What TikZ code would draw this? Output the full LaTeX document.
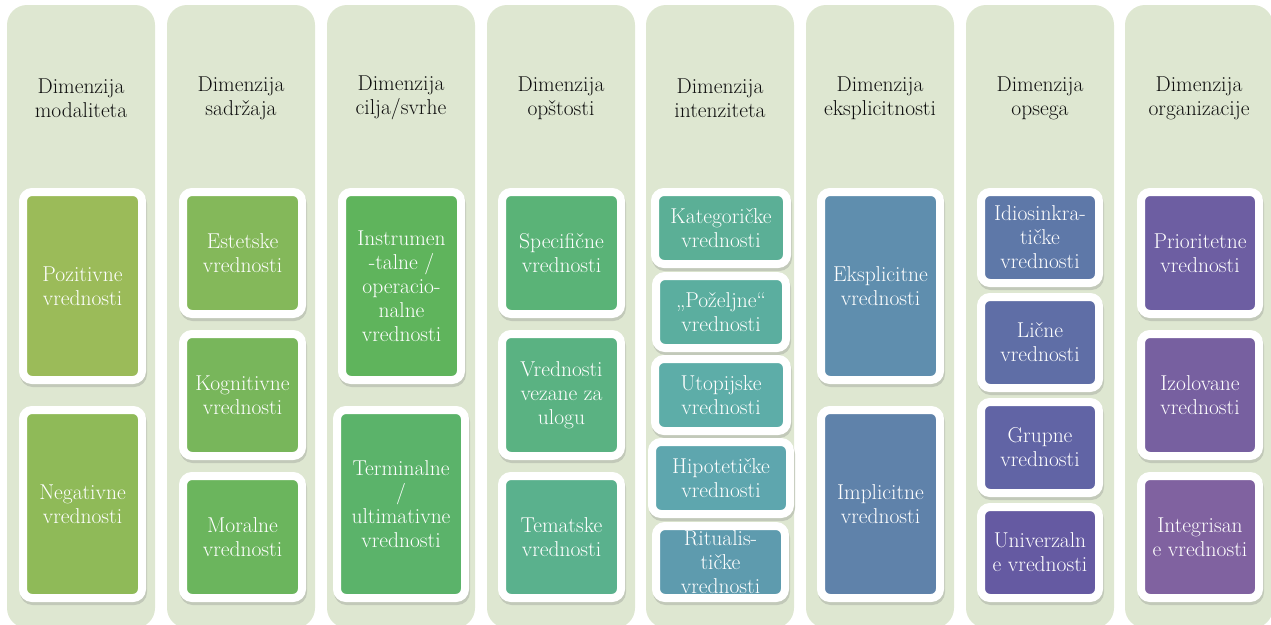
\documentclass[tikz,border=0pt]{standalone}
\usetikzlibrary{shadows}
\definecolor{panelc}{RGB}{222,231,209}
\definecolor{shadowc}{RGB}{194,201,185}
\definecolor{headc}{RGB}{15,15,15}
\definecolor{cpoz}{RGB}{155,187,89}
\definecolor{cneg}{RGB}{143,186,88}
\definecolor{cest}{RGB}{132,184,90}
\definecolor{ckog}{RGB}{120,182,91}
\definecolor{cmor}{RGB}{107,181,93}
\definecolor{cins}{RGB}{95,180,92}
\definecolor{cter}{RGB}{91,179,106}
\definecolor{cspe}{RGB}{90,179,119}
\definecolor{cvez}{RGB}{90,178,130}
\definecolor{ctem}{RGB}{90,177,141}
\definecolor{ckat}{RGB}{91,175,150}
\definecolor{cpoz2}{RGB}{91,174,159}
\definecolor{cuto}{RGB}{93,173,168}
\definecolor{chip}{RGB}{94,166,174}
\definecolor{crit}{RGB}{94,155,174}
\definecolor{ceks}{RGB}{95,142,174}
\definecolor{cimp}{RGB}{95,130,170}
\definecolor{cidi}{RGB}{94,120,168}
\definecolor{clic}{RGB}{95,110,166}
\definecolor{cgru}{RGB}{97,100,165}
\definecolor{cuni}{RGB}{101,90,162}
\definecolor{cpri}{RGB}{109,94,162}
\definecolor{cizo}{RGB}{119,96,160}
\definecolor{cint}{RGB}{128,98,160}
\begin{document}
\begin{tikzpicture}[x=1pt,y=-1pt,
  panel/.style={fill=panelc, rounded corners=20pt},
  head/.style={align=center, text=headc, inner sep=0pt, font=\fontsize{21.5}{24}\selectfont},
  val/.style={draw=white, line width=8pt, rounded corners=9pt, text=white, align=center,
    inner sep=0pt, font=\fontsize{21.5}{24}\selectfont,
    drop shadow={shadow xshift=1pt, shadow yshift=-3pt, opacity=1, fill=shadowc, draw=shadowc, line width=8pt}}
]
\useasboundingbox (0,0) rectangle (1271,624);
\clip (0,0) rectangle (1271,624);
\fill[panel] (7,5) rectangle (155,628);
\fill[panel] (167,5) rectangle (315,628);
\fill[panel] (327,5) rectangle (475,628);
\fill[panel] (487,5) rectangle (635,628);
\fill[panel] (646,5) rectangle (794,628);
\fill[panel] (806,5) rectangle (954,628);
\fill[panel] (966,5) rectangle (1114,628);
\fill[panel] (1125,5) rectangle (1273,628);
\node[head] (hmod) at (81,98) {Dimenzija\\modaliteta};
\node[head] (hsad) at (241,98) {Dimenzija\\sadržaja};
\node[head] (hcil) at (401,98) {Dimenzija\\cilja/svrhe};
\node[head] (hops) at (561,98) {Dimenzija\\opštosti};
\node[head] (hint) at (720,98) {Dimenzija\\intenziteta};
\node[head] (heks) at (880,98) {Dimenzija\\eksplicitnosti};
\node[head] (hobu) at (1040,98) {Dimenzija\\opsega};
\node[head] (horg) at (1199,98) {Dimenzija\\organizacije};
\node[val, fill=cpoz, minimum width=119pt, minimum height=188pt] (pozitivne) at (82.5,286) {Pozitivne\\vrednosti};
\node[val, fill=cneg, minimum width=119pt, minimum height=188pt] (negativne) at (82.5,504) {Negativne\\vrednosti};
\node[val, fill=cest, minimum width=119pt, minimum height=122pt] (estetske) at (242.5,253) {Estetske\\vrednosti};
\node[val, fill=ckog, minimum width=119pt, minimum height=122pt] (kognitivne) at (242.5,395) {Kognitivne\\vrednosti};
\node[val, fill=cmor, minimum width=119pt, minimum height=122pt] (moralne) at (242.5,537) {Moralne\\vrednosti};
\node[val, fill=cins, minimum width=119pt, minimum height=188pt] (instrumentalne) at (401.5,286) {Instrumen\\-talne /\\operacio-\\nalne\\vrednosti};
\node[val, fill=cter, minimum width=128pt, minimum height=188pt] (terminalne) at (401,504) {Terminalne\\/\\ultimativne\\vrednosti};
\node[val, fill=cspe, minimum width=119pt, minimum height=122pt] (specificne) at (561.5,253) {Specifične\\vrednosti};
\node[val, fill=cvez, minimum width=119pt, minimum height=122pt] (uloga) at (561.5,395) {Vrednosti\\vezane za\\ulogu};
\node[val, fill=ctem, minimum width=119pt, minimum height=122pt] (tematske) at (561.5,537) {Tematske\\vrednosti};
\node[val, fill=ckat, minimum width=132pt, minimum height=72pt] (kategoricke) at (721,228) {Kategoričke\\vrednosti};
\node[val, fill=cpoz2, minimum width=130pt, minimum height=72pt] (pozeljne) at (721,312) {„Poželjne“\\vrednosti};
\node[val, fill=cuto, minimum width=132pt, minimum height=72pt] (utopijske) at (721,395) {Utopijske\\vrednosti};
\node[val, fill=chip, minimum width=138pt, minimum height=72pt] (hipoteticke) at (721,478) {Hipotetičke\\vrednosti};
\node[val, fill=crit, minimum width=129pt, minimum height=72pt] (ritualisticke) at (720.5,562) {Ritualis-\\tičke\\vrednosti};
\node[val, fill=ceks, minimum width=119pt, minimum height=188pt] (eksplicitne) at (880.5,286) {Eksplicitne\\vrednosti};
\node[val, fill=cimp, minimum width=119pt, minimum height=188pt] (implicitne) at (880.5,504) {Implicitne\\vrednosti};
\node[val, fill=cidi, minimum width=118pt, minimum height=91pt] (idiosinkraticke) at (1040,237.5) {Idiosinkra-\\tičke\\vrednosti};
\node[val, fill=clic, minimum width=118pt, minimum height=91pt] (licne) at (1040,342.5) {Lične\\vrednosti};
\node[val, fill=cgru, minimum width=118pt, minimum height=91pt] (grupne) at (1040,447.5) {Grupne\\vrednosti};
\node[val, fill=cuni, minimum width=118pt, minimum height=91pt] (univerzalne) at (1040,552.5) {Univerzaln\\e vrednosti};
\node[val, fill=cpri, minimum width=118pt, minimum height=122pt] (prioritetne) at (1200,253) {Prioritetne\\vrednosti};
\node[val, fill=cizo, minimum width=118pt, minimum height=122pt] (izolovane) at (1200,395) {Izolovane\\vrednosti};
\node[val, fill=cint, minimum width=118pt, minimum height=122pt] (integrisane) at (1200,537) {Integrisan\\e vrednosti};
\end{tikzpicture}
\end{document}
